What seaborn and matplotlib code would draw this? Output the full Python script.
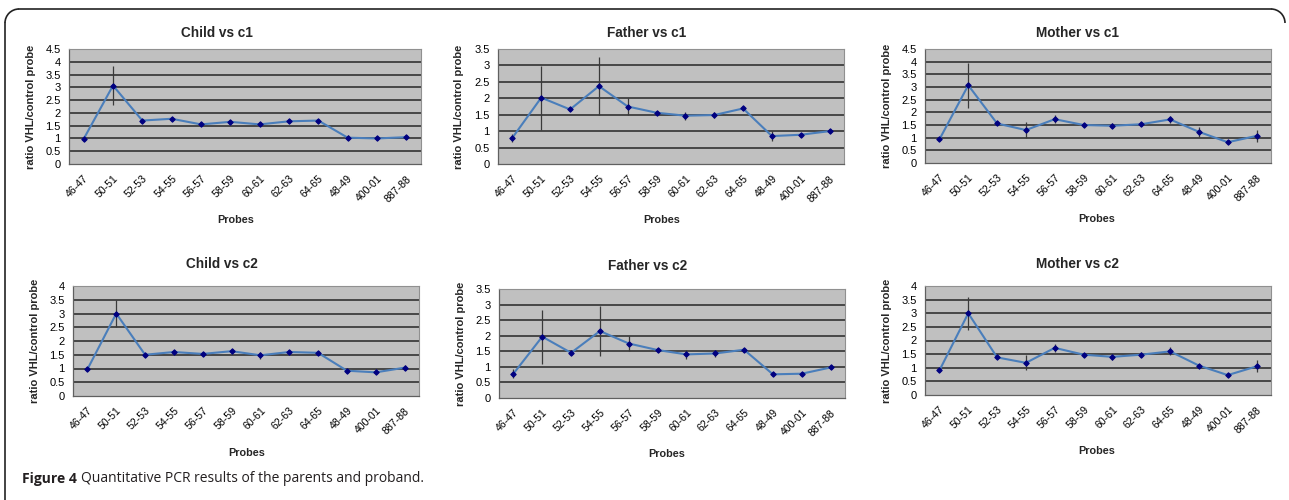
import numpy as np
import pandas as pd
import matplotlib
matplotlib.use("Agg")
import matplotlib.pyplot as plt
import seaborn as sns
from matplotlib.patches import Arc
from matplotlib.lines import Line2D

probes = ["46-47", "50-51", "52-53", "54-55", "56-57", "58-59",
          "60-61", "62-63", "64-65", "48-49", "400-01", "887-88"]

titles = ["Child vs c1", "Father vs c1", "Mother vs c1",
          "Child vs c2", "Father vs c2", "Mother vs c2"]

child_c1 = [0.98, 3.07, 1.70, 1.77, 1.55, 1.65, 1.55, 1.67, 1.70, 1.03, 1.00, 1.05]
child_c1_err = [0.03, 0.78, 0.04, 0.03, 0.07, 0.03, 0.07, 0.04, 0.06, 0.10, 0.03, 0.08]
father_c1 = [0.80, 2.02, 1.66, 2.37, 1.75, 1.56, 1.47, 1.49, 1.69, 0.85, 0.89, 1.00]
father_c1_err = [0.12, 0.97, 0.04, 0.88, 0.25, 0.05, 0.12, 0.08, 0.04, 0.15, 0.03, 0.06]
mother_c1 = [0.93, 3.07, 1.56, 1.30, 1.73, 1.50, 1.47, 1.53, 1.72, 1.23, 0.82, 1.07]
mother_c1_err = [0.03, 0.88, 0.05, 0.30, 0.15, 0.04, 0.10, 0.07, 0.13, 0.20, 0.03, 0.25]
child_c2 = [0.97, 3.00, 1.50, 1.60, 1.53, 1.63, 1.48, 1.60, 1.57, 0.92, 0.86, 1.03]
child_c2_err = [0.07, 0.50, 0.05, 0.04, 0.04, 0.04, 0.12, 0.07, 0.07, 0.04, 0.03, 0.08]
father_c2 = [0.78, 1.97, 1.45, 2.15, 1.75, 1.54, 1.40, 1.43, 1.55, 0.76, 0.78, 0.98]
father_c2_err = [0.15, 0.87, 0.03, 0.80, 0.25, 0.06, 0.15, 0.10, 0.07, 0.03, 0.03, 0.05]
mother_c2 = [0.90, 3.00, 1.38, 1.18, 1.73, 1.48, 1.40, 1.48, 1.60, 1.08, 0.73, 1.05]
mother_c2_err = [0.05, 0.60, 0.04, 0.27, 0.15, 0.04, 0.12, 0.10, 0.15, 0.07, 0.03, 0.22]

series = [child_c1, father_c1, mother_c1, child_c2, father_c2, mother_c2]
errors = [child_c1_err, father_c1_err, mother_c1_err,
          child_c2_err, father_c2_err, mother_c2_err]
ymaxes = [4.5, 3.5, 4.5, 4.0, 3.5, 4.0]

W, H = 1289, 500
sns.set_style("white")
plt.rcParams['font.family'] = ['Liberation Sans', 'DejaVu Sans']

fig = plt.figure(figsize=(W / 100, H / 100), dpi=100)
fig.patch.set_facecolor("white")

def fx(x):
    return x / W

def fy(y):
    return 1 - y / H

# axes boxes in pixels: left, top, right, bottom
boxes = [(69, 49, 421, 164), (498, 49, 844, 164), (925, 49, 1271, 163),
         (73, 286, 419, 396), (499, 289, 845, 398), (925, 286, 1271, 395)]
title_pos = [(217, 33), (647, 33), (1077, 33), (222, 264), (648, 266), (1077, 264)]
probes_pos = [(236, 220), (662, 220), (1097, 219), (247, 453), (667, 454), (1097, 451)]

line_col = "#4A7EBB"
mark_col = "#000080"

for i in range(6):
    l, t, r, b = boxes[i]
    ax = fig.add_axes([fx(l), fy(b), (r - l) / W, (b - t) / H])
    ax.set_facecolor("#C0C0C0")
    df = pd.DataFrame({"pos": np.arange(len(probes)), "val": series[i]})
    ax.errorbar(df["pos"], df["val"], yerr=errors[i], fmt="none",
                ecolor="#3a3a3a", elinewidth=0.9, capsize=0, zorder=3)
    sns.lineplot(data=df, x="pos", y="val", ax=ax, color=line_col, lw=1.5,
                 marker="D", markersize=2.8, markerfacecolor=mark_col,
                 markeredgecolor=mark_col, zorder=4)
    ymax = ymaxes[i]
    ax.set_xlim(-0.5, len(probes) - 0.5)
    ax.set_ylim(0, ymax)
    yt = np.arange(0, ymax + 0.01, 0.5)
    ax.set_yticks(yt)
    ax.set_yticklabels([("%g" % v) for v in yt], fontsize=8)
    for v in yt[1:]:
        ax.axhline(v, color="#333333", lw=1.2, zorder=1)
    ax.set_xticks(np.arange(len(probes)))
    ax.set_xticklabels(probes, fontsize=7.6, rotation=45, ha="right",
                       rotation_mode="anchor")
    ax.set_xticks(np.arange(-0.5, len(probes)), minor=True)
    ax.tick_params(axis="x", which="major", length=0, pad=7)
    ax.tick_params(axis="x", which="minor", length=4, width=0.8,
                   color="#606060", direction="out")
    ax.tick_params(axis="y", length=3, width=0.8, color="#606060",
                   direction="out", pad=3)
    ax.tick_params(axis="both", colors="#606060", labelcolor="black")
    for s in ["top", "right"]:
        ax.spines[s].set_color("#909090")
        ax.spines[s].set_linewidth(0.8)
    for s in ["left", "bottom"]:
        ax.spines[s].set_color("#606060")
        ax.spines[s].set_linewidth(0.9)
    ax.set_ylabel("ratio VHL/control probe", fontsize=8, fontweight="bold")
    ax.yaxis.set_label_coords(-33.5 / (r - l), 0.5)
    ax.set_xlabel("Probes", fontsize=7.8, fontweight="bold")
    px, py = probes_pos[i]
    ax.xaxis.set_label_coords(fx(px), fy(py), transform=fig.transFigure)
    ax.xaxis.label.set_va("center")
    tx, ty = title_pos[i]
    fig.text(fx(tx), fy(ty), titles[i], fontsize=9.8, fontweight="bold",
             ha="center", va="center")

# border frame (left and top edges with rounded corners)
bc = "#222222"
rad = 14
fig.add_artist(Line2D([fx(5), fx(5)], [fy(9 + rad), 0], color=bc, lw=1.2))
fig.add_artist(Line2D([fx(5 + rad), fx(1285 - rad)], [fy(9), fy(9)], color=bc, lw=1.2))
fig.add_artist(Arc((5 + rad, H - 9 - rad), 2 * rad, 2 * rad, theta1=90, theta2=180,
                   transform=None, color=bc, lw=1.2))
fig.add_artist(Arc((1285 - rad, H - 9 - rad), 2 * rad, 2 * rad, theta1=0, theta2=90,
                   transform=None, color=bc, lw=1.2))

# caption
cap_col = "#231F20"
t1 = fig.text(fx(22), fy(479), "Figure 4", fontsize=10, fontweight="bold",
              family=["Open Sans", "DejaVu Sans"], color=cap_col, va="center", ha="left")
fig.canvas.draw()
bb = t1.get_window_extent(fig.canvas.get_renderer())
fig.text((bb.x1 + 4) / W, fy(479), "Quantitative PCR results of the parents and proband.",
         fontsize=10, family=["Open Sans", "DejaVu Sans"], color=cap_col,
         va="center", ha="left")

fig.savefig("out.png", dpi=100)
